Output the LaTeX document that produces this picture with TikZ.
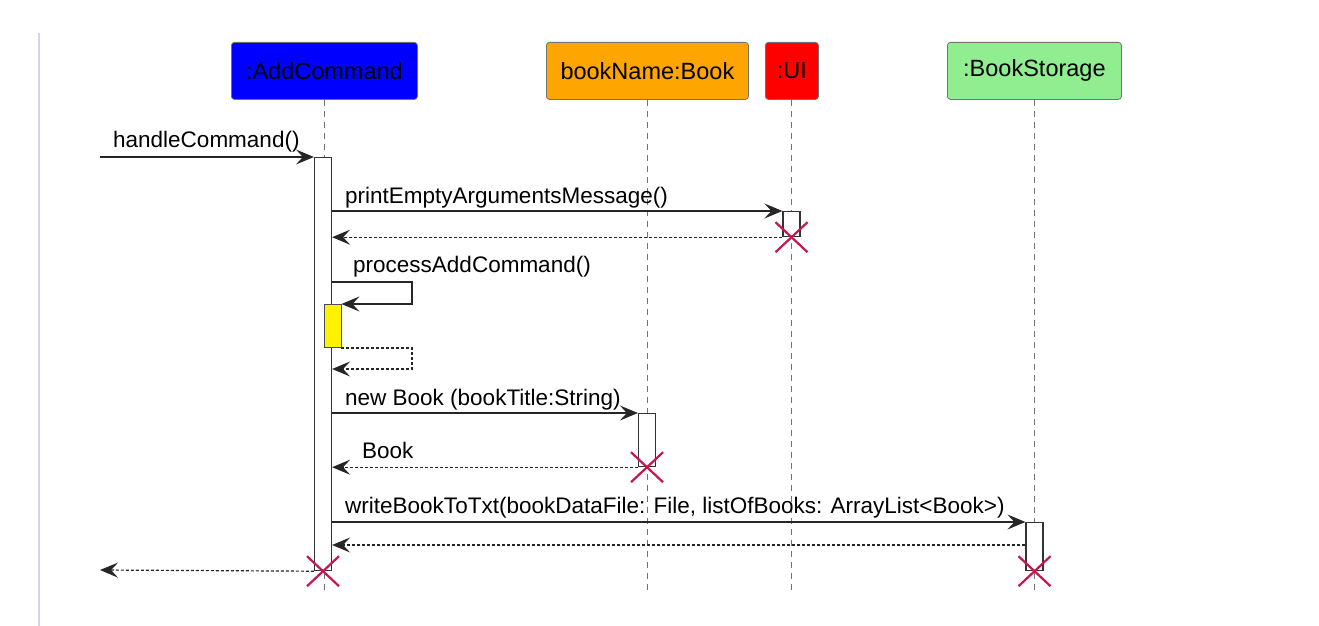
\documentclass[tikz,border=0pt]{standalone}
\usepackage{fontspec}
\setmainfont{Liberation Sans}
\usetikzlibrary{arrows.meta,calc}
\definecolor{xred}{RGB}{200,22,78}
\definecolor{hblue}{RGB}{0,0,255}
\definecolor{horange}{RGB}{255,165,0}
\definecolor{hred}{RGB}{255,0,0}
\definecolor{hgreen}{RGB}{144,238,144}
\definecolor{sideline}{RGB}{210,214,230}
\begin{document}
\begin{tikzpicture}[x=1pt,y=-1pt,
  head/.style={draw=black!55, rounded corners=3pt, minimum height=57pt, inner sep=0pt, line width=0.8pt, font=\fontsize{23.5}{28}\selectfont, anchor=north west},
  life/.style={draw=black!55, line width=0.9pt, dash pattern=on 6pt off 5pt},
  act/.style={draw=black!80, fill=white, line width=1.2pt, inner sep=0pt, anchor=north, minimum width=17pt},
  msg/.style={draw=black!85, line width=1.2pt, -{Stealth[length=18pt,width=15pt,inset=7pt]}},
  ret/.style={msg, dash pattern=on 3pt off 2pt},
  lbl/.style={font=\fontsize{22.5}{26}\selectfont, anchor=base west, inner sep=0pt},
  kill/.style={draw=xred, line width=2.2pt},
]
\useasboundingbox (0,0) rectangle (1319,626);
\fill[white] (0,0) rectangle (1319,626);
\draw[sideline, line width=1.5pt] (39,33) -- (39,626);

% heads
\node[head, fill=hblue, minimum width=186pt] (hA) at (231,42) {:AddCommand};
\node[head, fill=horange, minimum width=202pt] (hB) at (546,42) {bookName:Book};
\node[head, fill=hred, minimum width=53pt] (hU) at (765,42) {:UI};
\node[head, fill=hgreen, minimum width=174pt] (hS) at (947,42) {:BookStorage};

\coordinate (bot) at (0,592);
\draw[life] (hA.south) -- (hA.south |- bot);
\draw[life] (hB.south) -- (hB.south |- bot);
\draw[life] (hU.south) -- (hU.south |- bot);
\draw[life] (hS.south) -- (hS.south |- bot);

% activations
\node[act, minimum height=413pt] (aA) at (323,157) {};
\node[act, minimum height=25pt] (aU) at (791.5,211) {};
\node[act, fill=yellow, draw=black!70, line width=0.9pt, minimum height=43pt] (aY) at (332.5,304) {};
\node[act, minimum height=53pt] (aB) at (647,413) {};
\node[act, minimum height=48pt] (aS) at (1034.5,522) {};

\coordinate (inA) at (100,157);
\coordinate (outA) at (100,570);
\coordinate (s1) at (412,282);
\coordinate (r1) at (0,369);
\coordinate (r2) at (0,545);

% messages
\draw[msg] (inA) -- (aA.north west);
\node[lbl] (l1) at (113,147) {handleCommand()};

\draw[msg] (aA.east |- aU.north) -- (aU.north west);
\node[lbl] (l2) at (345,203) {printEmptyArgumentsMessage()};
\draw[ret] (aU.south west) -- (aA.east |- aU.south);

\draw[msg] (aA.east |- s1) -- (s1) -- (s1 |- aY.north) -- (aY.north east);
\node[lbl] (l3) at (353,272) {processAddCommand()};
\draw[ret] (aY.south east) -- (s1 |- aY.south) -- (s1 |- r1) -- (aA.east |- r1);

\draw[msg] (aA.east |- aB.north) -- (aB.north west);
\node[lbl] (l4) at (345,405) {new Book (bookTitle:String)};
\draw[ret] (aB.south west) -- (aA.east |- aB.south);
\node[lbl] (l5) at (362,458) {Book};

\draw[msg] (aA.east |- aS.north) -- (aS.north west);
\node[lbl] (l6) at (345,513) {writeBookToTxt(bookDataFile: File, listOfBooks: ArrayList<Book>)};
\draw[ret] (aS.west |- r2) -- (aA.east |- r2);

\draw[ret] (aA.south west) -- (outA);

% destruction marks
\foreach \n in {aU,aB,aA,aS}{
  \draw[kill] ($(\n.south)+(-16,-15)$) -- ($(\n.south)+(16,15)$);
  \draw[kill] ($(\n.south)+(-16,15)$) -- ($(\n.south)+(16,-15)$);
}
\end{tikzpicture}
\end{document}
